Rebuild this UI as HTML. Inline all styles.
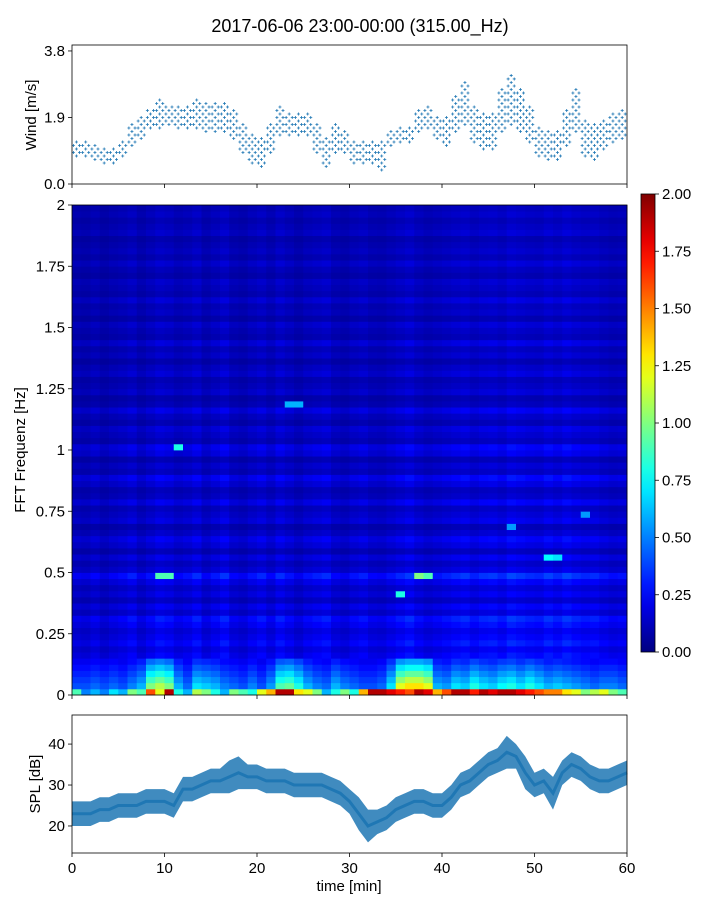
<!DOCTYPE html>
<html><head><meta charset="utf-8"><style>
body{margin:0;background:#fff;font-family:"Liberation Sans",sans-serif}
svg text{font-family:"Liberation Sans",sans-serif;fill:#000}
</style></head><body>
<svg id="root" width="720" height="900" viewBox="0 0 720 900" xmlns="http://www.w3.org/2000/svg">
<rect width="720" height="900" fill="#fff"/>
<text x="360" y="32" font-size="18" text-anchor="middle">2017-06-06 23:00-00:00 (315.00_Hz)</text>
<g id="wind"></g>
<g id="spec"></g>
<g id="cbar"></g>
<g id="spl"></g>
</svg>
<script>
// ---------- data ----------
const windMean=[1.0,1.0,0.9,0.85,0.85,1.0,1.4,1.6,1.85,2.0,1.95,1.9,1.9,2.0,1.9,1.95,1.9,1.7,1.3,1.0,0.9,1.3,1.8,1.7,1.7,1.7,1.3,0.9,1.3,1.2,0.9,0.9,0.9,0.8,1.3,1.4,1.4,1.8,1.9,1.6,1.5,2.0,2.3,1.7,1.5,1.5,2.1,2.4,2.1,1.7,1.2,1.1,1.1,1.6,2.1,1.3,1.2,1.4,1.6,1.7];
const windSpread=[0.2,0.2,0.2,0.2,0.2,0.2,0.3,0.3,0.3,0.4,0.3,0.3,0.3,0.4,0.4,0.4,0.4,0.4,0.4,0.4,0.4,0.4,0.4,0.3,0.3,0.3,0.4,0.4,0.4,0.3,0.3,0.3,0.3,0.4,0.2,0.2,0.2,0.3,0.3,0.3,0.4,0.5,0.6,0.5,0.5,0.5,0.6,0.7,0.6,0.5,0.4,0.4,0.4,0.5,0.6,0.5,0.5,0.4,0.4,0.4];
const splMean=[23,23,23,24,24,25,25,25,26,26,26,25,29,29,30,31,31,32,33,32,32,31,31,31,30,30,30,30,29,28,26,23,20,21,22,24,25,26,26,25,25,27,30,31,33,35,36,38,37,33,30,31,28,33,35,34,32,31,31,32,33];
const splWidth=[3,3,3,3,3,3,3,3,3,3,3,3,3,3,3,3,3,4,4,3,3,3,3,3,3,3,3,3,3,3,3,4,4,3,3,3,3,3,3,3,3,3,3,3,3,3,3,4,3,4,3,3,4,3,3,3,3,3,3,3,3];
const specRow=[0.3,0.3,0.3,0.3,0.3,0.3,
0.22,0.18,0.24,0.2,0.17,0.22,0.26,
0.15,0.2,0.12,0.18,0.14,0.2,0.28,0.16,
0.12,0.18,0.1,0.16,0.2,0.13,0.09,0.17,0.14,0.11,0.19,0.12,0.1,0.16,0.21,0.11,0.14,0.09,0.17,0.2,
0.1,0.13,0.16,0.09,0.12,0.18,0.1,0.08,0.14,0.11,0.09,0.15,0.12,0.08,0.13,0.1,0.16,0.09,0.11,0.14,0.08,0.12,0.1,0.15,0.09,0.11,0.13,0.08,0.1,0.14,0.09,0.12,0.1,0.08,0.13,0.11,0.09,0.12,0.1];
const specCol=[0.8,0.75,0.9,0.7,0.85,0.95,1.1,0.8,1.0,1.2,1.1,0.9,1.0,1.2,0.85,1.05,1.25,0.9,0.8,1.0,1.15,0.9,1.2,1.0,0.8,1.0,1.1,1.2,0.9,0.8,1.0,1.1,0.9,0.85,1.0,1.15,1.3,1.05,0.9,1.0,1.1,1.2,1.3,1.1,1.25,1.3,1.15,1.4,1.3,1.2,1.15,1.35,1.2,1.4,1.25,1.15,1.2,1.05,0.95,1.0];
const lowBand=[0.3,0.3,0.35,0.3,0.35,0.3,0.4,0.5,0.9,1.0,0.9,0.5,0.35,0.6,0.55,0.5,0.4,0.35,0.3,0.4,0.3,0.45,0.8,0.85,0.7,0.5,0.4,0.35,0.5,0.4,0.35,0.3,0.3,0.35,0.6,1.1,1.2,1.2,1.1,0.5,0.45,0.6,0.55,0.7,0.6,0.55,0.65,0.7,0.6,0.7,0.6,0.5,0.55,0.5,0.45,0.4,0.35,0.4,0.4,0.35];
const bottomRow=[0.9,0.5,0.6,0.5,0.7,0.6,1.0,0.9,1.6,1.2,1.9,0.8,0.6,1.1,1.0,0.8,0.6,1.0,0.9,0.8,1.2,1.4,1.9,1.9,1.3,1.2,1.0,0.6,0.8,1.0,0.8,1.4,1.9,1.9,1.8,1.7,1.6,1.9,1.8,1.4,1.6,1.9,1.9,1.7,1.9,1.8,1.9,1.9,1.8,1.7,1.6,1.5,1.5,1.3,1.2,1.0,1.1,1.2,1.0,0.9];
const hotT=[9,10,11,37,38,35,51,52,23,24,47,55];
const hotF=[0.49,0.49,1.0,0.49,0.49,0.42,0.56,0.56,1.18,1.18,0.7,0.73];
const hotV=[0.9,0.9,0.8,1.0,0.9,0.8,0.75,0.7,0.6,0.6,0.55,0.55];
const xTicks=[0,10,20,30,40,50,60];
const windTicks=[0.0,1.9,3.8];
const specTicks=[0,0.25,0.5,0.75,1,1.25,1.5,1.75,2];
const specTickLabels=["0","0.25","0.5","0.75","1","1.25","1.5","1.75","2"];
const cbarTicks=[0,0.25,0.5,0.75,1,1.25,1.5,1.75,2];
const splTicks=[20,30,40];

// ---------- helpers ----------
const NS="http://www.w3.org/2000/svg";
function mk(tag,attrs,parent,text){const e=document.createElementNS(NS,tag);for(const k in attrs)e.setAttribute(k,attrs[k]);if(text!==undefined)e.textContent=text;parent.appendChild(e);return e;}
const X0=72,X1=627;
const xs=t=>X0+(t/60)*(X1-X0);
function jet(v){v=Math.max(0,Math.min(1,v));const c=x=>Math.round(255*Math.max(0,Math.min(1,1.5-Math.abs(x))));return `rgb(${c(4*v-3)},${c(4*v-2)},${c(4*v-1)})`;}
function frame(g,y0,y1,name){const r=mk('rect',{x:X0,y:y0,width:X1-X0,height:y1-y0,fill:'none',stroke:'#000','stroke-width':0.8},g);}
function xAxisTicks(g,y1,labels){xTicks.forEach(t=>{const l=mk('line',{x1:xs(t),x2:xs(t),y1:y1,y2:y1+4,stroke:'#000','stroke-width':0.8},g);
 if(labels){const tx=mk('text',{x:xs(t),y:y1+20,'font-size':15,'text-anchor':'middle'},g,String(t));}});}
function yTick(g,y,label,name){const l=mk('line',{x1:X0-4,x2:X0,y1:y,y2:y,stroke:'#000','stroke-width':0.8},g);
 const t=mk('text',{x:X0-7,y:y+5,'font-size':15,'text-anchor':'end'},g,label);}

// ---------- wind ----------
(function(){const g=document.getElementById('wind');const WY0=45,WY1=184,WMAX=3.97;
const ys=v=>WY1-(v/WMAX)*(WY1-WY0);
let d='';
windMean.forEach((m,i)=>{const s=windSpread[i];
 for(let k=0;k<3;k++){const t=i+k*0.33+0.15;
  let n=0;
  for(let v=Math.round((m-s)*10)/10;v<=m+s+1e-6;v+=0.1){n++;if((n+k)%2)continue;const x=xs(t),y=ys(v);d+=`M${x-1.5},${y}h3M${x},${y-1.5}v3`;}}});
const p=mk('path',{d:d,stroke:'#1f77b4','stroke-width':0.8,fill:'none'},g);

frame(g,WY0,WY1,'wind-axes');xAxisTicks(g,WY1,false);
windTicks.forEach(v=>yTick(g,ys(v),v.toFixed(1),'wind-y-tick-label'));
const yl=mk('text',{x:36,y:115,'font-size':15,'text-anchor':'middle',transform:'rotate(-90 36 115)'},g,'Wind [m/s]');

})();

// ---------- spectrogram ----------
(function(){const g=document.getElementById('spec');const SY0=205,SY1=695;
const ys=f=>SY1-(f/2)*(SY1-SY0);const nR=specRow.length,df=2/nR;
for(let c=0;c<specCol.length;c++){for(let r=0;r<nR;r++){
 let v;
 if(r===0)v=bottomRow[c];else if(r<6)v=lowBand[c]*(1-(r-1)*0.15)+0.1;else v=specRow[r]*specCol[c];
 const f0=r*df;
 hotT.forEach((t,h)=>{if(t===c&&hotF[h]>=f0&&hotF[h]<f0+df)v=hotV[h];});
 const rc=mk('rect',{x:xs(c),y:ys(f0+df),width:xs(c+1)-xs(c)+0.4,height:ys(f0)-ys(f0+df)+0.4,fill:jet(v/2)},g);
 }}
frame(g,SY0,SY1,'spectrogram-axes');xAxisTicks(g,SY1,false);
specTicks.forEach((f,i)=>yTick(g,ys(f),specTickLabels[i],'spec-y-tick-label'));
const yl=mk('text',{x:25,y:450,'font-size':15,'text-anchor':'middle',transform:'rotate(-90 25 450)'},g,'FFT Frequenz [Hz]');

})();

// ---------- colorbar ----------
(function(){const g=document.getElementById('cbar');const CX=641,CW=14,CY0=194,CY1=652;
const defs=mk('defs',{},g);const lg=mk('linearGradient',{id:'jetg',x1:0,y1:1,x2:0,y2:0},defs);
for(let i=0;i<=20;i++){mk('stop',{offset:i/20,'stop-color':jet(i/20)},lg);}
const r=mk('rect',{x:CX,y:CY0,width:CW,height:CY1-CY0,fill:'url(#jetg)',stroke:'#000','stroke-width':0.8},g);

cbarTicks.forEach(v=>{const y=CY1-(v/2)*(CY1-CY0);
 const l=mk('line',{x1:CX+CW,x2:CX+CW+4,y1:y,y2:y,stroke:'#000','stroke-width':0.8},g);
 const t=mk('text',{x:CX+CW+7,y:y+5,'font-size':15},g,v.toFixed(2));});
})();

// ---------- SPL ----------
(function(){const g=document.getElementById('spl');const PY0=715,PY1=853,VMIN=13.4,VMAX=47.1;
const ys=v=>PY1-(v-VMIN)/(VMAX-VMIN)*(PY1-PY0);
let up='',dn='';
splMean.forEach((m,i)=>{up+=(i?'L':'M')+xs(i)+','+ys(m+splWidth[i]);});
for(let i=splMean.length-1;i>=0;i--)dn+='L'+xs(i)+','+ys(splMean[i]-splWidth[i]);
const band=mk('path',{d:up+dn+'Z',fill:'#1f77b4','fill-opacity':0.85},g);

let ln='';splMean.forEach((m,i)=>{ln+=(i?'L':'M')+xs(i)+','+ys(m);});
const line=mk('path',{d:ln,fill:'none',stroke:'#1f77b4','stroke-width':3},g);

frame(g,PY0,PY1,'spl-axes');xAxisTicks(g,PY1,true);
splTicks.forEach(v=>yTick(g,ys(v),String(v),'spl-y-tick-label'));
const yl=mk('text',{x:40,y:784,'font-size':15,'text-anchor':'middle',transform:'rotate(-90 40 784)'},g,'SPL [dB]');

const xl=mk('text',{x:349,y:891,'font-size':15,'text-anchor':'middle'},g,'time [min]');

})();
</script>
</body></html>
